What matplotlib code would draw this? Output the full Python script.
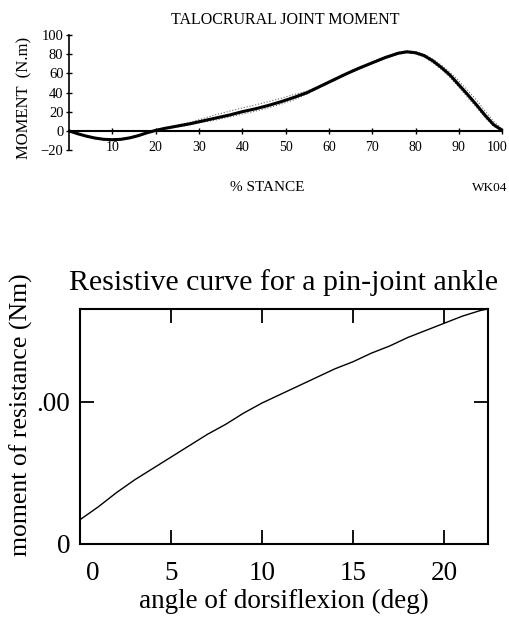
import numpy as np
import matplotlib.pyplot as plt
import matplotlib.transforms as mtransforms

plt.rcParams['font.family'] = ['Liberation Serif', 'DejaVu Serif']

# top panel: ankle (talocrural) moment over stance, mean and +/- band
stance = [0, 2, 4, 6, 8, 10, 12, 14, 16, 18, 20, 22, 25, 28, 31, 34, 37, 40, 43, 46, 49,
          52, 55, 58, 61, 64, 67, 70, 73, 76, 78, 80, 82, 84, 86, 88, 90, 92, 94, 96, 98, 100]
moment_mean = [0, -3, -5.5, -7.5, -8.8, -9.2, -8.8, -7.3, -5, -2, 0.5, 2.5, 5, 7.5, 10.5, 13.5,
               16.5, 20, 23, 26.5, 30.5, 35, 40, 46.5, 53, 59.5, 65.5, 71, 76.5, 81, 82.5,
               81.5, 78.5, 73, 66, 58, 48, 38, 27.5, 16.5, 6.5, 0.5]
moment_upper = [0, -2.5, -5, -7, -8.2, -8.7, -8.3, -6.8, -4.5, -1.5, 1, 3, 6, 9, 13, 17,
                20.5, 24, 27, 30.5, 34, 38, 41.5, 47.5, 54, 60.5, 66.5, 72, 77.5, 82, 83.5,
                82.5, 80, 75, 68.5, 61, 52, 42.5, 32.5, 21, 10, 2]
moment_lower = [0, -3.5, -6, -8, -9.4, -9.8, -9.4, -7.8, -5.5, -2.5, 0, 2, 4, 6.5, 9, 11.5,
                14.5, 17.5, 20.5, 24, 28, 32.5, 38.5, 45.5, 52, 58.5, 64.5, 70, 75.5, 80, 81.5,
                80.5, 77, 71, 64, 55.5, 45.5, 35, 25, 14, 5, 0]

# bottom panel: resistive curve of a pin-joint ankle
angle = [0, 1, 2, 3, 4, 5, 6, 7, 8, 9, 10, 11, 12, 13, 14, 15, 16, 17, 18, 19, 20, 21, 22, 22.4]
resistance = [17, 26, 36, 45, 53, 61, 69, 77, 84, 92, 99, 105, 111, 117, 123, 128, 134, 139,
              145, 150, 155, 160, 164, 165]

fig = plt.figure(figsize=(5.09, 6.2), dpi=100)

# ---- top chart
ax1 = fig.add_axes([0.1356, 0.758, 0.851, 0.1855])
ax1.plot(stance, moment_upper, color='dimgray', lw=0.8, ls=':')
ax1.plot(stance, moment_lower, color='dimgray', lw=0.8, ls=':')
ax1.plot(stance, moment_mean, color='black', lw=2.2)
ax1.set_xlim(0, 100)
ax1.set_ylim(-20, 100)
ax1.spines['top'].set_visible(False)
ax1.spines['right'].set_visible(False)
ax1.spines['bottom'].set_position(('data', 0))
ax1.spines['bottom'].set_linewidth(1.5)
ax1.spines['left'].set_linewidth(1.2)
ax1.set_xticks(np.arange(10, 101, 10))
ax1.set_yticks(np.arange(-20, 101, 20))
ax1.tick_params(direction='inout', length=4, width=1, labelsize=10.5, pad=2)
ax1.tick_params(axis='x', pad=5, labelsize=10)
# keep the last x label inside the figure
shift = mtransforms.ScaledTranslation(-5 / 100, 0, fig.dpi_scale_trans)
lbl100 = ax1.get_xticklabels()[-1]
lbl100.set_transform(lbl100.get_transform() + shift)
ax1.set_title('TALOCRURAL JOINT MOMENT', fontsize=11.5, pad=8)
ax1.set_ylabel('MOMENT  (N.m)', fontsize=12)
ax1.yaxis.set_label_coords(-0.085, 0.45)
fig.text(0.525, 0.697, '% STANCE', ha='center', va='center', fontsize=11)
fig.text(0.997, 0.697, 'WK04', ha='right', va='center', fontsize=9.5)

# ---- bottom chart
ax2 = fig.add_axes([0.157, 0.1226, 0.8016, 0.379])
ax2.plot(angle, resistance, color='black', lw=1)
ax2.set_xlim(0, 22.4)
ax2.set_ylim(0, 165)
for s in ax2.spines.values():
    s.set_linewidth(1.5)
ax2.set_xticks([0, 5, 10, 15, 20])
ax2.set_yticks([0, 100])
ax2.set_yticklabels(['0', '.00'])
ax2.tick_params(direction='in', length=10, width=1.3, labelsize=19.5,
                top=True, right=True, pad=7)
ax2.tick_params(axis='x', pad=12)
# the "0" label sits a little to the right of the spine
offset = mtransforms.ScaledTranslation(13 / 100, 0, fig.dpi_scale_trans)
lbl0 = ax2.get_xticklabels()[0]
lbl0.set_transform(lbl0.get_transform() + offset)
ax2.set_title('Resistive curve for a pin-joint ankle', fontsize=21.5, pad=14)
ax2.set_xlabel('angle of dorsiflexion (deg)', fontsize=19.5, labelpad=2)
ax2.set_ylabel('moment of resistance (Nm)', fontsize=18.5)
ax2.yaxis.set_label_coords(-0.115, 0.55)

fig.savefig('out.png', dpi=100)
